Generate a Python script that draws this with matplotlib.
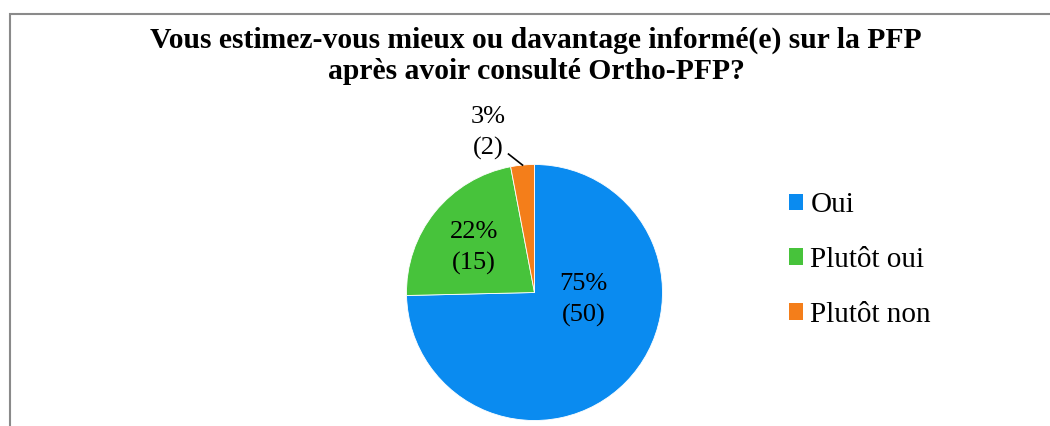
import matplotlib
matplotlib.use('Agg')
import matplotlib.pyplot as plt
from matplotlib.patches import Rectangle
import numpy as np

# données
categories = ['Oui', 'Plutôt oui', 'Plutôt non']
counts = [50, 15, 2]
colors = ['#0A8BF0', '#47C33B', '#F47E1A']
title = 'Vous estimez-vous mieux ou davantage informé(e) sur la PFP\naprès avoir consulté Ortho-PFP?'

W, H = 1050, 426
plt.rcParams['font.family'] = ['Liberation Serif', 'DejaVu Serif']

fig = plt.figure(figsize=(W / 100, H / 100), dpi=100)
ax = fig.add_axes([0, 0, 1, 1])

# cadre (coupé à droite et en bas)
ax.add_patch(Rectangle((9.5, -20), W + 40, H - 14 + 20, fill=False,
                       edgecolor='#8a8a8a', linewidth=1.5))

cx, cy, R = 534.5, H - 292.5, 128
wedges, _ = ax.pie(counts, colors=colors, startangle=90, counterclock=False,
                   center=(cx, cy), radius=R, frame=True,
                   wedgeprops=dict(linewidth=0.6, edgecolor='white'))
ax.set_xlim(0, W)
ax.set_ylim(0, H)
ax.set_aspect('equal')
ax.axis('off')

total = sum(counts)
labels = [f'{round(100 * c / total)}%\n({c})' for c in counts]

# positions des étiquettes (angle en degrés, distance relative au rayon)
label_pos = [(-9.0, 0.39), (143.5, 0.59)]
for lab, (ang, r) in zip(labels[:2], label_pos):
    a = np.deg2rad(ang)
    ax.text(cx + r * R * np.cos(a), cy + r * R * np.sin(a), lab,
            ha='center', va='center', fontsize=19, linespacing=1.5)

# petite part : étiquette à l'extérieur avec trait de rappel
w = wedges[2]
a = np.deg2rad((w.theta1 + w.theta2) / 2)
x0, y0 = cx + R * np.cos(a), cy + R * np.sin(a)
ax.plot([x0, x0 - 14], [y0, y0 + 11], color='black', lw=1.2)
ax.text(x0 - 34, y0 + 32, labels[2], ha='center', va='center',
        fontsize=19, linespacing=1.5)

fig.text(536 / W, 1 - 56 / H, title, ha='center', va='center',
         fontsize=21.3, fontweight='bold', linespacing=1.2)

handles = [Rectangle((0, 0), 1, 1, facecolor=c) for c in colors]
fig.legend(handles, categories, loc='center left',
           bbox_to_anchor=(774 / W, 1 - 260 / H), frameon=False,
           fontsize=21, handlelength=0.5, handleheight=0.5,
           handletextpad=0.25, labelspacing=0.98, borderpad=0)

fig.savefig('out.png', dpi=100)
